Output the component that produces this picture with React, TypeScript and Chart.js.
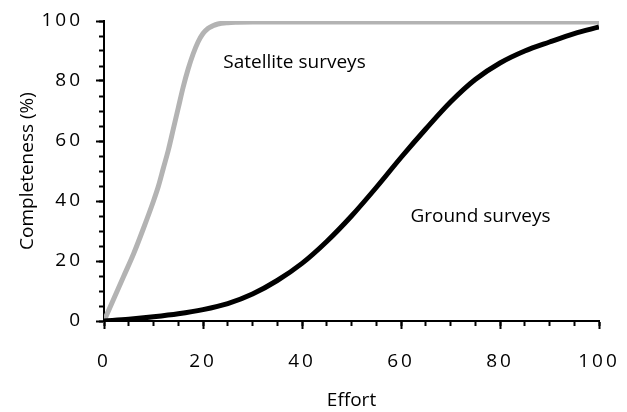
import React, { useEffect, useRef } from "react";
import { Chart, registerables } from "chart.js";

Chart.register(...registerables);

// Satellite surveys (grey curve)
const satelliteEffort = [0, 2, 4, 6, 8, 10, 11, 12, 13, 14, 15, 16, 17, 18, 19, 20, 21, 22, 23, 25, 27, 30, 100];
const satelliteCompleteness = [0, 7.5, 15, 22.5, 31, 40, 45, 51, 57, 64, 71, 78, 84, 89, 93, 95.8, 97.5, 98.4, 99, 99.45, 99.6, 99.7, 99.7];

// Ground surveys (black curve)
const groundEffort = [0, 5, 10, 15, 20, 25, 30, 35, 40, 45, 50, 55, 60, 65, 70, 75, 80, 85, 90, 95, 100];
const groundCompleteness = [0, 0.6, 1.4, 2.4, 3.8, 5.8, 9, 13.5, 19.2, 26.5, 35, 44.5, 54.5, 64, 73, 80.5, 86, 90, 93, 95.8, 98];

// Text labels placed in data coordinates
const annotationLabels = ["Satellite surveys", "Ground surveys"];
const annotationEffort = [24.1, 61.9];
const annotationCompleteness = [86.3, 34.7];

const xTitle = "Effort";
const yTitle = "Completeness (%)";

const FONT = '"Open Sans", sans-serif';

const zeroPad = (s: any) => {
  s.paddingTop = 0;
  s.paddingBottom = 0;
  s.paddingLeft = 0;
  s.paddingRight = 0;
};

export default function App() {
  const canvasRef = useRef<HTMLCanvasElement | null>(null);

  useEffect(() => {
    const canvas = canvasRef.current;
    if (!canvas) return;

    const spacedLabels = {
      id: "spacedLabels",
      beforeDraw(chart: any) {
        ["x", "y"].forEach((id) => {
          const s = chart.scales[id];
          if (s && !s.__spaced) {
            const orig = s.drawLabels;
            s.drawLabels = function (ca: any) {
              const c = this.ctx;
              const prev = c.letterSpacing;
              c.letterSpacing = "3px";
              orig.call(this, ca);
              c.letterSpacing = prev || "0px";
            };
            s.__spaced = true;
          }
        });
      },
    };

    const annotations = {
      id: "annotations",
      afterDatasetsDraw(chart: any) {
        const ctx = chart.ctx;
        const xs = chart.scales.x;
        const ys = chart.scales.y;
        ctx.save();
        ctx.font = `19px ${FONT}`;
        ctx.fillStyle = "#000";
        ctx.textAlign = "left";
        ctx.textBaseline = "middle";
        annotationLabels.forEach((t, i) => {
          ctx.fillText(t, xs.getPixelForValue(annotationEffort[i]), ys.getPixelForValue(annotationCompleteness[i]));
        });
        ctx.restore();
      },
    };

    const chart = new Chart(canvas, {
      type: "line",
      data: {
        datasets: [
          {
            label: "Ground surveys",
            data: groundEffort.map((e, i) => ({ x: e, y: groundCompleteness[i] })),
            borderColor: "#000000",
            borderWidth: 5,
            pointRadius: 0,
            cubicInterpolationMode: "monotone",
            fill: false,
          },
          {
            label: "Satellite surveys",
            data: satelliteEffort.map((e, i) => ({ x: e, y: satelliteCompleteness[i] })),
            borderColor: "#b3b3b3",
            borderWidth: 5,
            pointRadius: 0,
            cubicInterpolationMode: "monotone",
            fill: false,
          },
        ],
      },
      options: {
        animation: false,
        responsive: true,
        maintainAspectRatio: false,
        events: [],
        layout: { padding: { top: 21, right: 28, bottom: 0, left: 0 } },
        plugins: { legend: { display: false }, tooltip: { enabled: false } },
        scales: {
          xMinor: {
            type: "linear",
            position: "bottom",
            weight: 0,
            min: 0,
            max: 100,
            ticks: { display: false, stepSize: 5 },
            grid: { drawOnChartArea: false, drawTicks: true, tickLength: 5, tickWidth: 2, tickColor: "#000" },
            border: { display: true, color: "#000", width: 2 },
            afterFit: (s: any) => {
              s.height = 0;
              zeroPad(s);
            },
          },
          yMinor: {
            type: "linear",
            position: "left",
            weight: 0,
            min: 0,
            max: 100,
            ticks: { display: false, stepSize: 5 },
            grid: { drawOnChartArea: false, drawTicks: true, tickLength: 5, tickWidth: 2, tickColor: "#000" },
            border: { display: true, color: "#000", width: 2 },
            afterFit: (s: any) => {
              s.width = 0;
              zeroPad(s);
            },
          },
          x: {
            type: "linear",
            position: "bottom",
            weight: 1,
            min: 0,
            max: 100,
            ticks: {
              stepSize: 20,
              padding: 21,
              color: "#000",
              font: { family: FONT, size: 19 },
              maxRotation: 0,
            },
            grid: { drawOnChartArea: false, drawTicks: true, tickLength: 8, tickWidth: 2, tickColor: "#000" },
            border: { display: true, color: "#000", width: 2 },
            title: {
              display: true,
              text: xTitle,
              color: "#000",
              font: { family: FONT, size: 19 },
              padding: { top: 0, bottom: 0 },
            },
            afterFit: (s: any) => {
              s.height = 91;
              zeroPad(s);
            },
          },
          y: {
            type: "linear",
            position: "left",
            weight: 1,
            min: 0,
            max: 100,
            ticks: {
              stepSize: 20,
              padding: 13,
              color: "#000",
              font: { family: FONT, size: 19 },
            },
            grid: { drawOnChartArea: false, drawTicks: true, tickLength: 8, tickWidth: 2, tickColor: "#000" },
            border: { display: true, color: "#000", width: 2 },
            title: {
              display: true,
              text: yTitle,
              color: "#000",
              font: { family: FONT, size: 19 },
              padding: { top: 16.6, bottom: 0 },
            },
            afterFit: (s: any) => {
              s.width = 104;
              zeroPad(s);
            },
          },
        },
      },
      plugins: [spacedLabels, annotations],
    } as any);

    return () => {
      chart.destroy();
    };
  }, []);

  return (
    <div style={{ position: "absolute", left: 0, top: 0, width: 627, height: 412, background: "#fff" }}>
      <canvas ref={canvasRef} />
    </div>
  );
}
